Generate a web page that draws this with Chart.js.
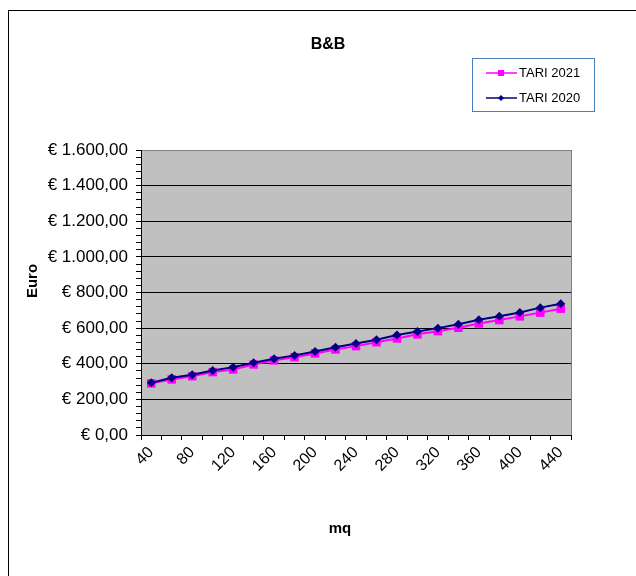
<!DOCTYPE html>
<html>
<head>
<meta charset="utf-8">
<script src="https://cdn.jsdelivr.net/npm/chart.js@4/dist/chart.umd.min.js"></script>
<style>
    html, body { margin: 0; padding: 0; background: #fff; overflow: hidden; }
    #frame { position: absolute; left: 8px; top: 10px; width: 700px; height: 700px; border: 1px solid #000; box-sizing: border-box; }
    #wrap { position: absolute; left: 0; top: 0; width: 636px; height: 576px; }
</style>
</head>
<body>
<div id="frame"></div>
<div id="wrap"><canvas id="c" width="636" height="576"></canvas></div>
<script>
const categories = ['40', '60', '80', '100', '120', '140', '160', '180', '200', '220', '240',
    '260', '280', '300', '320', '340', '360', '380', '400', '420', '440'];
const tari2021 = [290, 312, 330, 353, 368, 396, 419, 437, 458, 480, 499,
    521, 542, 565, 583, 602, 626, 645, 666, 687, 709];
const tari2020 = [293, 321, 338, 362, 381, 406, 428, 447, 469, 493, 514,
    535, 561, 581, 600, 622, 647, 667, 688, 715, 737];
const yMax = 1600;
const chartTitle = 'B&B';
const xTitle = 'mq';
const yTitle = 'Euro';

const FONT = '"Liberation Sans", Arial, sans-serif';

function euro(v) {
    const s = String(Math.round(v)).replace(/\B(?=(\d{3})+(?!\d))/g, '.');
    return '€ ' + s + ',00';
}

// grey plot area, grey right edge, titles
const plotBg = {
    id: 'plotBg',
    beforeDraw(chart) {
        const { ctx, chartArea: a } = chart;
        ctx.save();
        ctx.fillStyle = '#c0c0c0';
        ctx.fillRect(a.left, a.top, a.right - a.left, a.bottom - a.top);
        ctx.restore();
    },
    afterDraw(chart) {
        const { ctx, chartArea: a } = chart;
        ctx.save();
        ctx.strokeStyle = '#808080';
        ctx.lineWidth = 1;
        ctx.beginPath();
        ctx.moveTo(a.right + 0.5, a.top);
        ctx.lineTo(a.right + 0.5, a.bottom);
        ctx.stroke();
        ctx.fillStyle = '#000';
        ctx.textAlign = 'center';
        ctx.textBaseline = 'middle';
        ctx.font = 'bold 16px ' + FONT;
        ctx.fillText(chartTitle, 328, 45);
        ctx.font = 'bold 15px ' + FONT;
        ctx.fillText(xTitle, 340, 529);
        ctx.translate(33, 281);
        ctx.rotate(-Math.PI / 2);
        ctx.fillText(yTitle, 0, 0);
        ctx.restore();
    }
};

// boxed legend, top right
const boxLegend = {
    id: 'boxLegend',
    afterDraw(chart) {
        const { ctx } = chart;
        const x = 472, y = 58, w = 122, h = 53;
        ctx.save();
        ctx.strokeStyle = '#4a7ebb';
        ctx.lineWidth = 1;
        ctx.strokeRect(x + 0.5, y + 0.5, w, h);
        const items = [chart.data.datasets[0], chart.data.datasets[1]];
        items.forEach((ds, i) => {
            const cy = y + 15 + i * 25;
            const mx = x + 29;
            ctx.strokeStyle = ds.borderColor;
            ctx.lineWidth = 1.5;
            ctx.beginPath();
            ctx.moveTo(x + 14, cy);
            ctx.lineTo(x + 45, cy);
            ctx.stroke();
            ctx.fillStyle = ds.borderColor;
            if (ds.pointStyle === 'rect') {
                ctx.fillRect(mx - 3, cy - 3, 6, 6);
            } else {
                ctx.beginPath();
                ctx.moveTo(mx, cy - 3);
                ctx.lineTo(mx + 3, cy);
                ctx.lineTo(mx, cy + 3);
                ctx.lineTo(mx - 3, cy);
                ctx.closePath();
                ctx.fill();
            }
            ctx.fillStyle = '#000';
            ctx.font = '13px ' + FONT;
            ctx.textBaseline = 'middle';
            ctx.fillText(ds.label, x + 47, cy);
        });
        ctx.restore();
    }
};

new Chart(document.getElementById('c'), {
    type: 'line',
    data: {
        labels: categories,
        datasets: [
            {
                label: 'TARI 2021',
                data: tari2021,
                borderColor: '#ff00ff',
                backgroundColor: '#ff00ff',
                borderWidth: 2,
                pointStyle: 'rect',
                pointRadius: 6,
                pointBorderWidth: 0,
                order: 1,
            },
            {
                label: 'TARI 2020',
                data: tari2020,
                borderColor: '#000080',
                backgroundColor: '#000080',
                borderWidth: 2,
                pointStyle: 'rectRot',
                pointRadius: 4.5,
                pointBorderWidth: 0,
                order: 0,
            },
        ],
    },
    options: {
        responsive: false,
        animation: false,
        layout: { padding: { left: 20, right: 65, top: 150, bottom: 32 } },
        plugins: {
            legend: { display: false },
            tooltip: { enabled: false },
            title: { display: false },
        },
        scales: {
            x: {
                offset: true,
                grid: {
                    offset: true,
                    color: 'transparent',
                    tickColor: '#000',
                    tickLength: 5,
                },
                border: { color: '#000', width: 1 },
                ticks: {
                    color: '#000',
                    font: { family: FONT, size: 16 },
                    autoSkip: false,
                    minRotation: 45,
                    maxRotation: 45,
                    padding: 3,
                    callback: (v, i) => (i % 2 === 0 ? categories[i] : ''),
                },
                title: { display: false },
                afterFit(scale) { scale.height = 109; },
            },
            y: {
                min: 0,
                max: yMax,
                grid: {
                    color: ctx => {
                        const v = ctx.tick.value;
                        if (v === yMax) return '#808080';
                        return v % 200 === 0 ? '#000' : 'transparent';
                    },
                    tickColor: '#000',
                    tickLength: 5,
                },
                border: { color: '#000', width: 1 },
                ticks: {
                    stepSize: 40,
                    autoSkip: false,
                    color: '#000',
                    font: { family: FONT, size: 17 },
                    padding: 8,
                    callback: v => (v % 200 === 0 ? euro(v) : ''),
                },
                title: { display: false },
                afterFit(scale) { scale.width = 121; },
            },
        },
    },
    plugins: [plotBg, boxLegend],
});
</script>
</body>
</html>
